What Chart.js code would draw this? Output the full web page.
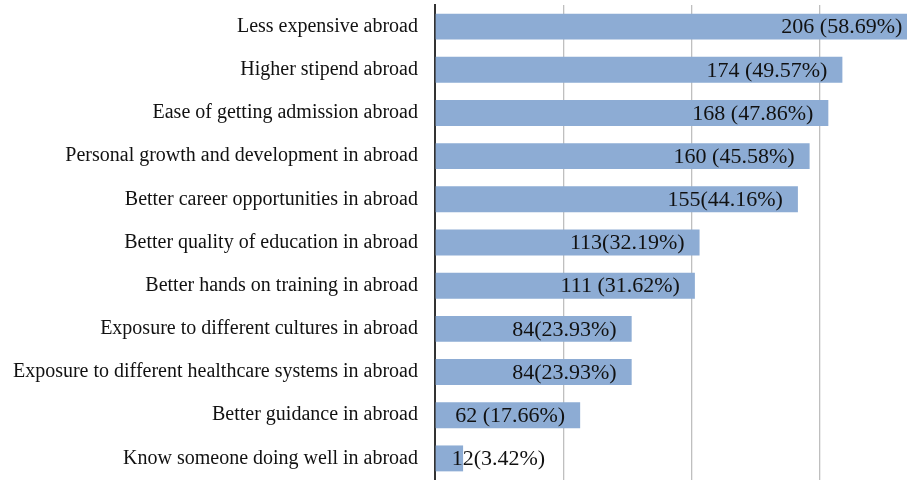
<!DOCTYPE html>
<html>
<head>
<meta charset="utf-8">
<script src="https://cdn.jsdelivr.net/npm/chart.js@4"></script>
<style>
  html, body { margin: 0; padding: 0; background: #fff; overflow: hidden; }
  #wrap { width: 907px; height: 480px; }
</style>
</head>
<body>
<div id="wrap"><canvas id="chart" width="907" height="480"></canvas></div>
<script>
const reasons = [
  'Less expensive abroad',
  'Higher stipend abroad',
  'Ease of getting admission abroad',
  'Personal growth and development in abroad',
  'Better career opportunities in abroad',
  'Better quality of education in abroad',
  'Better hands on training in abroad',
  'Exposure to different cultures in abroad',
  'Exposure to different healthcare systems in abroad',
  'Better guidance in abroad',
  'Know someone doing well in abroad'
];
const counts = [206, 174, 168, 160, 155, 113, 111, 84, 84, 62, 12];
const valueLabels = [
  '206 (58.69%)', '174 (49.57%)', '168 (47.86%)', '160 (45.58%)', '155(44.16%)',
  '113(32.19%)', '111 (31.62%)', '84(23.93%)', '84(23.93%)', '62 (17.66%)', '12(3.42%)'
];

// labels drawn at the inner end of each bar
const barLabels = {
  id: 'barLabels',
  afterDatasetsDraw(chart) {
    const ctx = chart.ctx;
    const meta = chart.getDatasetMeta(0);
    ctx.save();
    ctx.font = '22px "Liberation Serif", "Times New Roman", serif';
    ctx.fillStyle = '#111';
    ctx.textAlign = 'right';
    ctx.textBaseline = 'middle';
    meta.data.forEach((bar, i) => {
      const txt = valueLabels[i];
      const w = ctx.measureText(txt).width;
      const x = Math.max(bar.x - 15, bar.base + 16 + w);
      ctx.fillText(txt, x, bar.y + 1);
    });
    ctx.restore();
  }
};

new Chart(document.getElementById('chart'), {
  type: 'bar',
  data: {
    labels: reasons,
    datasets: [{
      data: counts,
      backgroundColor: 'rgb(141, 172, 212)',
      barPercentage: 0.6,
      categoryPercentage: 1.0
    }]
  },
  options: {
    indexAxis: 'y',
    responsive: false,
    animation: false,
    layout: { padding: { left: 12, top: 5, right: 0, bottom: 0 } },
    plugins: {
      legend: { display: false },
      tooltip: { enabled: false }
    },
    scales: {
      x: {
        min: 0,
        max: 201.6,
        border: { display: false },
        ticks: { display: false, stepSize: 54.75 },
        grid: {
          drawTicks: false,
          color: (c) => (c.tick && c.tick.value > 200) ? 'rgba(0,0,0,0)' : '#bfbfbf',
          lineWidth: 1.3
        },
        afterFit(scale) {
          scale.height = 0;
          scale.paddingLeft = 0;
          scale.paddingRight = 0;
        }
      },
      y: {
        border: { display: true, color: '#333', width: 2 },
        grid: { display: false, drawTicks: false },
        ticks: {
          padding: 17,
          color: '#111',
          font: { family: '"Liberation Serif", "Times New Roman", serif', size: 20 }
        },
        afterFit(scale) {
          scale.width = 423;
          scale.paddingTop = 0;
          scale.paddingBottom = 0;
        }
      }
    }
  },
  plugins: [barLabels]
});
</script>
</body>
</html>
